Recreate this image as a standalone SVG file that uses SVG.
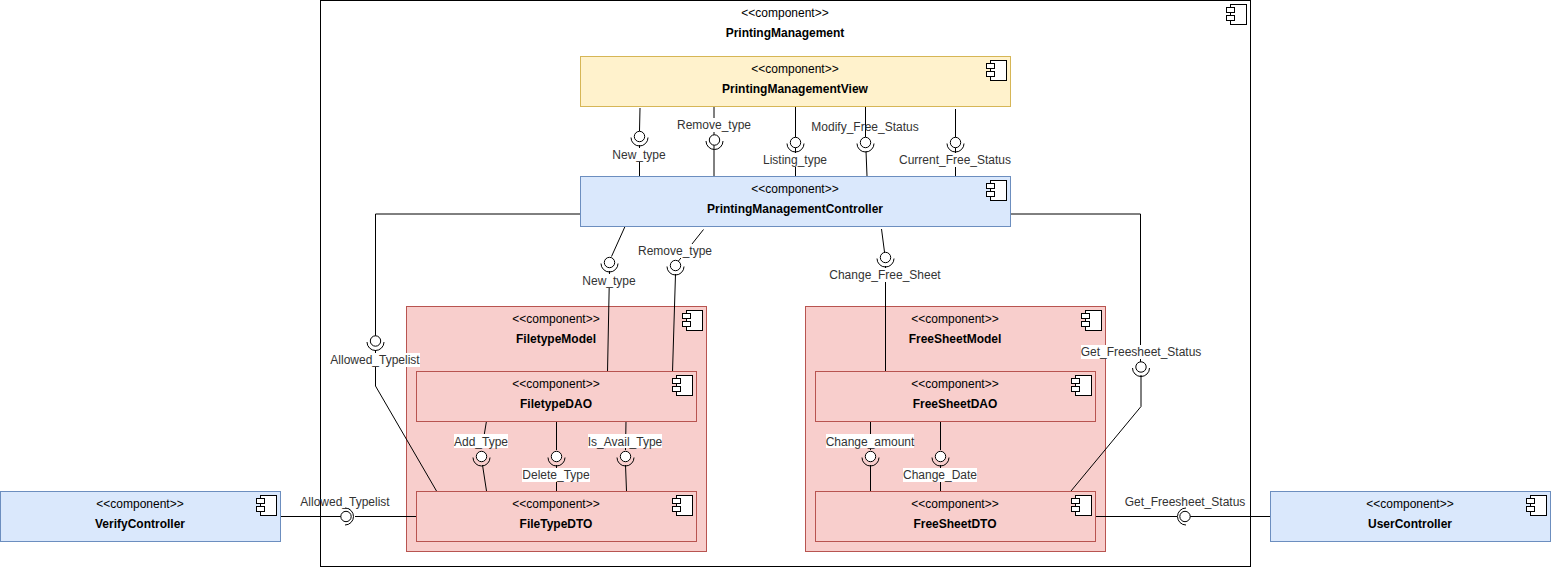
<svg xmlns="http://www.w3.org/2000/svg" width="1551" height="567" viewBox="0 0 1551 567">
<style>
text{font-family:"Liberation Sans",Arial,sans-serif;font-size:12px;fill:#000;text-anchor:middle}
.t{font-weight:bold}
.lb{font-size:12px;fill:#333}
.y{fill:#fff2cc;stroke:#d6b656}
.b{fill:#dae8fc;stroke:#6c8ebf}
.r{fill:#f8cecc;stroke:#b85450}
.w{fill:#fff;stroke:#000}
.c{fill:none;stroke:#000;stroke-width:1}
.ball{fill:#fff;stroke:#000;stroke-width:1}
.bg{fill:#fff}
</style>
<defs>
<g id="ic"><rect x="4.500" y="0.500" width="16" height="20" fill="#fff" stroke="#000"/><rect x="0.500" y="3.500" width="8" height="5" fill="#fff" stroke="#000"/><rect x="0.500" y="11.500" width="8" height="5" fill="#fff" stroke="#000"/></g>
<g id="sd"><circle class="ball" r="5.200"/><path class="c" d="M-8.500 1a8.500 8.500 0 0 0 17 0"/></g>
<g id="sr"><circle class="ball" r="5.200"/><path class="c" d="M-1 -8.500a8.500 8.500 0 0 1 0 17"/></g>
<g id="sl"><circle class="ball" r="5.200"/><path class="c" d="M1 -8.500a8.500 8.500 0 0 0 0 17"/></g>
</defs>
<g id="PrintingManagement"><rect class="w" x="320.500" y="0.500" width="930" height="566"/><text x="785" y="17">&lt;&lt;component&gt;&gt;</text><text class="t" x="785" y="37">PrintingManagement</text><use href="#ic" x="1226" y="4"/></g>
<g id="FiletypeModel"><rect class="r" x="406.500" y="306.500" width="300" height="245"/><text x="556" y="323">&lt;&lt;component&gt;&gt;</text><text class="t" x="556" y="343">FiletypeModel</text><use href="#ic" x="682" y="310"/></g>
<g id="FreeSheetModel"><rect class="r" x="805.500" y="306.500" width="300" height="245"/><text x="955" y="323">&lt;&lt;component&gt;&gt;</text><text class="t" x="955" y="343">FreeSheetModel</text><use href="#ic" x="1081" y="310"/></g>
<g id="connectors">
<path class="c" d="M640 108L639.500 131M639.500 145V176M714 106V176M795.500 106V176M865.500 106V137M866 151L867 176M955.500 109V176M625 226.500L611.500 256.500M609.500 271L607.500 372M703.500 229.500L678.500 261M675.500 274L672.500 372M881.500 229L884.500 252M885.500 266V372M580 214H375.500V336M375.500 350V386L436.500 491M1010 214H1140.500V362M1141 375V406.500L1071 491M486.500 421L484 436M482.500 465L486.500 491M556.500 421V450M556.500 465V491M626 421L625.500 450M625.500 465L626.500 491M870.500 421V450M870.500 465V491M940.500 421V450M940.500 465V491M281 516.500H341M355 516.500H416M1096 516.500H1177M1190 516.500H1270"/>
<g id="sockets">
<use href="#sd" x="639.500" y="136.500"/><use href="#sd" x="714.500" y="140"/><use href="#sd" x="795.500" y="142.500"/><use href="#sd" x="865.500" y="142.500"/><use href="#sd" x="955.500" y="142.500"/><use href="#sd" x="609.500" y="262.500"/><use href="#sd" x="675.500" y="265.500"/><use href="#sd" x="885.500" y="257.500"/><use href="#sd" x="375.500" y="341"/><use href="#sd" x="1141" y="367"/><use href="#sd" x="481.500" y="456.500"/><use href="#sd" x="556.500" y="456.500"/><use href="#sd" x="625.500" y="456.500"/><use href="#sd" x="870.500" y="456.500"/><use href="#sd" x="940.500" y="456.500"/><use href="#sr" x="346" y="516.500"/><use href="#sl" x="1185" y="516.500"/>
</g>
<g id="labels">
<rect class="bg" x="612" y="148" width="54" height="14"/><text class="lb" x="639" y="159">New_type</text>
<rect class="bg" x="677" y="118" width="74" height="14"/><text class="lb" x="714" y="129">Remove_type</text>
<rect class="bg" x="763" y="153" width="64" height="14"/><text class="lb" x="795" y="164">Listing_type</text>
<text class="lb" x="865" y="131">Modify_Free_Status</text>
<rect class="bg" x="899" y="153" width="112" height="14"/><text class="lb" x="955" y="164">Current_Free_Status</text>
<rect class="bg" x="582" y="274" width="54" height="14"/><text class="lb" x="609" y="285">New_type</text>
<rect class="bg" x="638" y="244" width="74" height="14"/><text class="lb" x="675" y="255">Remove_type</text>
<rect class="bg" x="829" y="268" width="112" height="14"/><text class="lb" x="885" y="279">Change_Free_Sheet</text>
<rect class="bg" x="330" y="353" width="90" height="14"/><text class="lb" x="375" y="364">Allowed_Typelist</text>
<rect class="bg" x="1081" y="345" width="121" height="14"/><text class="lb" x="1141" y="356">Get_Freesheet_Status</text>
<rect class="bg" x="454" y="434" width="54" height="14"/><text class="lb" x="481" y="446">Add_Type</text>
<rect class="bg" x="522" y="468" width="68" height="14"/><text class="lb" x="556" y="479">Delete_Type</text>
<rect class="bg" x="588" y="434" width="74" height="14"/><text class="lb" x="625" y="446">Is_Avail_Type</text>
<rect class="bg" x="826" y="434" width="88" height="14"/><text class="lb" x="870" y="446">Change_amount</text>
<rect class="bg" x="903" y="468" width="74" height="14"/><text class="lb" x="940" y="479">Change_Date</text>
<text class="lb" x="345" y="506">Allowed_Typelist</text>
<text class="lb" x="1185" y="506">Get_Freesheet_Status</text>
</g>
</g>
<g id="PrintingManagementView"><rect class="y" x="580.500" y="56.500" width="430" height="50"/><text x="795" y="73">&lt;&lt;component&gt;&gt;</text><text class="t" x="795" y="93">PrintingManagementView</text><use href="#ic" x="986" y="60"/></g>
<g id="PrintingManagementController"><rect class="b" x="580.500" y="176.500" width="430" height="50"/><text x="795" y="193">&lt;&lt;component&gt;&gt;</text><text class="t" x="795" y="213">PrintingManagementController</text><use href="#ic" x="986" y="180"/></g>
<g id="FiletypeDAO"><rect class="r" x="416.500" y="371.500" width="280" height="50"/><text x="556" y="388">&lt;&lt;component&gt;&gt;</text><text class="t" x="556" y="408">FiletypeDAO</text><use href="#ic" x="672" y="375"/></g>
<g id="FileTypeDTO"><rect class="r" x="416.500" y="491.500" width="280" height="50"/><text x="556" y="508">&lt;&lt;component&gt;&gt;</text><text class="t" x="556" y="528">FileTypeDTO</text><use href="#ic" x="672" y="495"/></g>
<g id="FreeSheetDAO"><rect class="r" x="815.500" y="371.500" width="280" height="50"/><text x="955" y="388">&lt;&lt;component&gt;&gt;</text><text class="t" x="955" y="408">FreeSheetDAO</text><use href="#ic" x="1071" y="375"/></g>
<g id="FreeSheetDTO"><rect class="r" x="815.500" y="491.500" width="280" height="50"/><text x="955" y="508">&lt;&lt;component&gt;&gt;</text><text class="t" x="955" y="528">FreeSheetDTO</text><use href="#ic" x="1071" y="495"/></g>
<g id="VerifyController"><rect class="b" x="0.500" y="491.500" width="280" height="50"/><text x="140" y="508">&lt;&lt;component&gt;&gt;</text><text class="t" x="140" y="528">VerifyController</text><use href="#ic" x="256" y="495"/></g>
<g id="UserController"><rect class="b" x="1270.500" y="491.500" width="280" height="50"/><text x="1410" y="508">&lt;&lt;component&gt;&gt;</text><text class="t" x="1410" y="528">UserController</text><use href="#ic" x="1526" y="495"/></g>
</svg>
